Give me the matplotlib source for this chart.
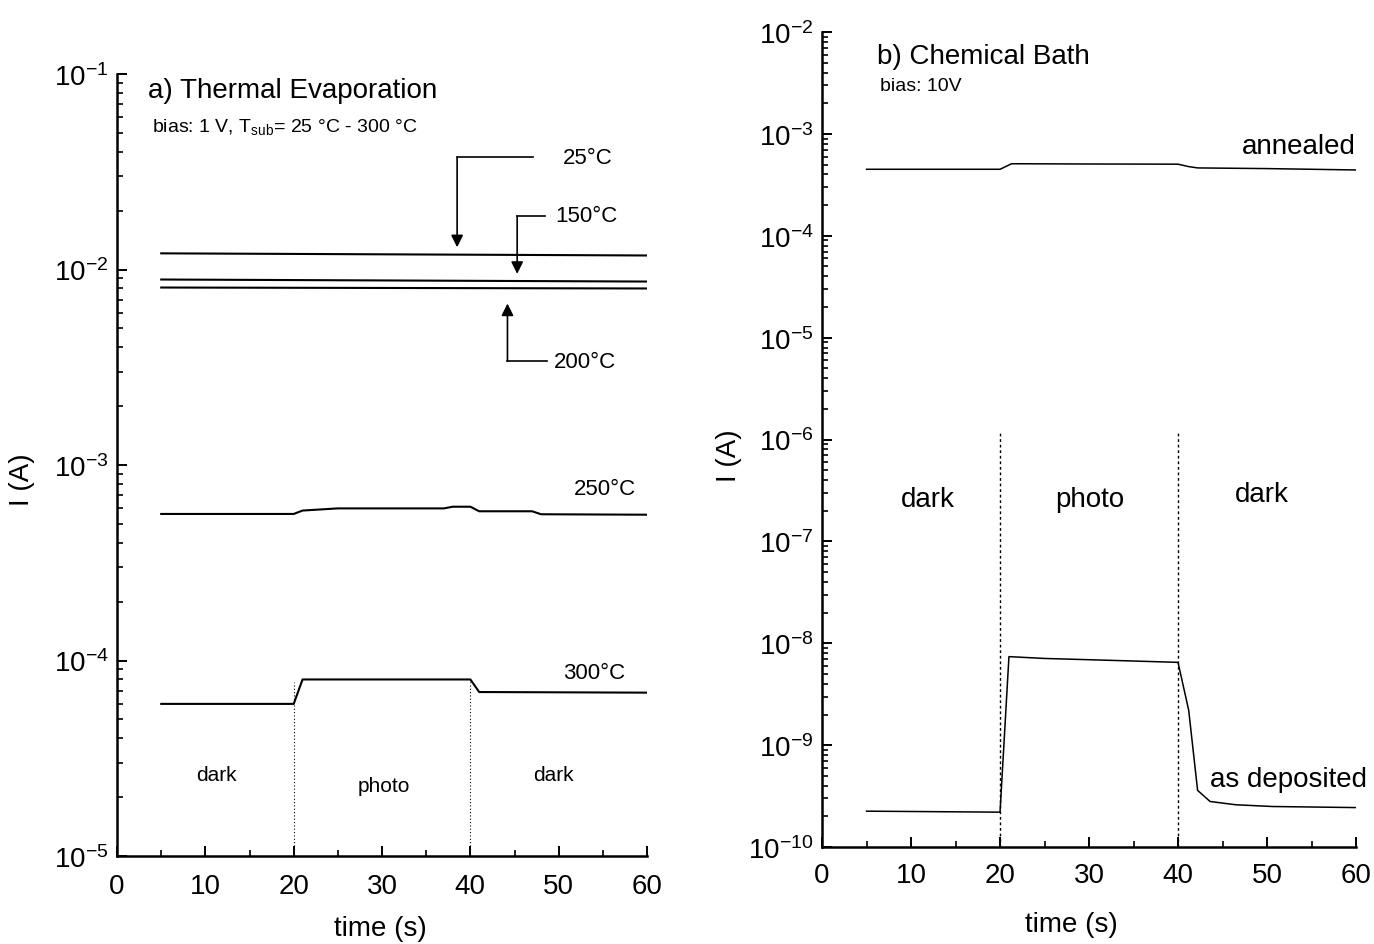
import matplotlib.pyplot as plt
import numpy as np

plt.rcParams['font.family'] = ['Liberation Sans', 'DejaVu Sans']
plt.rcParams['mathtext.fontset'] = 'custom'
plt.rcParams['mathtext.rm'] = 'Liberation Sans'
plt.rcParams['mathtext.it'] = 'Liberation Sans:italic'
plt.rcParams['mathtext.bf'] = 'Liberation Sans:bold'

# panel a) thermal evaporation, current vs time
t_flat = [5, 60]
i_25 = [1.21e-2, 1.18e-2]
i_150 = [8.89e-3, 8.68e-3]
i_200 = [8.09e-3, 8.00e-3]

t_250 = [5, 20, 21, 25, 37, 38, 40, 41, 47, 48, 60]
i_250 = [5.62e-4, 5.62e-4, 5.85e-4, 6.0e-4, 6.0e-4, 6.12e-4, 6.12e-4, 5.8e-4, 5.8e-4, 5.6e-4, 5.57e-4]

t_300 = [5, 20, 21, 40, 41, 60]
i_300 = [6.0e-5, 6.0e-5, 8.0e-5, 8.0e-5, 6.9e-5, 6.85e-5]

# panel b) chemical bath
t_ann = [5, 20, 21.3, 30, 40, 41.2, 42.2, 50, 60]
i_ann = [4.5e-4, 4.5e-4, 5.1e-4, 5.07e-4, 5.05e-4, 4.78e-4, 4.64e-4, 4.57e-4, 4.43e-4]

t_dep = [5, 20, 21.0, 25, 30, 35, 40, 41.2, 42.2, 43.6, 46.5, 50.6, 60]
i_dep = [2.25e-10, 2.2e-10, 7.4e-9, 7.1e-9, 6.9e-9, 6.7e-9, 6.5e-9, 2.2e-9, 3.6e-10, 2.8e-10, 2.6e-10, 2.5e-10, 2.44e-10]

switch_times = [20, 40]

fig = plt.figure(figsize=(13.74, 9.45), dpi=100)
axa = fig.add_axes([0.0852, 0.0931, 0.3857, 0.8275])
axb = fig.add_axes([0.5983, 0.1026, 0.3886, 0.8624])


def style_axis(ax, emin, emax, xpad):
    ax.set_yscale('log')
    ax.set_yticks(10.0 ** np.arange(emin, emax + 1))
    ax.set_xlim(0, 60)
    ax.set_ylim(10.0 ** emin, 10.0 ** emax)
    ax.set_xticks(np.arange(0, 61, 10))
    ax.set_xticks(np.arange(5, 60, 10), minor=True)
    for s in ['top', 'right']:
        ax.spines[s].set_visible(False)
    for s in ['left', 'bottom']:
        ax.spines[s].set_linewidth(1.8)
    ax.tick_params(which='major', direction='in', length=7, width=1.4, labelsize=20)
    ax.tick_params(which='minor', direction='in', length=4.5, width=1.2)
    ax.tick_params(axis='y', which='major', pad=6)
    ax.tick_params(axis='x', which='major', pad=xpad)
    ax.set_xlabel('time (s)', fontsize=20)
    ax.set_ylabel('I (A)', fontsize=20)


style_axis(axa, -5, -1, 12)
style_axis(axb, -10, -2, 10.5)

# panel a
for y in [i_25, i_150, i_200]:
    axa.plot(t_flat, y, color='k', lw=1.5)
axa.plot(t_250, i_250, color='k', lw=1.5)
axa.plot(t_300, i_300, color='k', lw=1.5)
for t in switch_times:
    axa.plot([t, t], [1e-5, 7.8e-5], color='k', lw=0.8, ls=(0, (1, 2)))

arr = dict(arrowstyle='-|>', color='k', lw=1.2, mutation_scale=18, shrinkA=0, shrinkB=0)
axa.plot([38.5, 47.1], [0.0376, 0.0376], color='k', lw=1.2)
axa.annotate('', xy=(38.5, 0.0130), xytext=(38.5, 0.0376), arrowprops=arr)
axa.plot([45.3, 48.5], [0.0188, 0.0188], color='k', lw=1.2)
axa.annotate('', xy=(45.3, 0.0095), xytext=(45.3, 0.0188), arrowprops=arr)
axa.plot([44.2, 48.7], [0.0034, 0.0034], color='k', lw=1.2)
axa.annotate('', xy=(44.2, 0.0067), xytext=(44.2, 0.0034), arrowprops=arr)

axa.text(3.5, 0.0828, 'a) Thermal Evaporation', fontsize=20, va='center')
axa.text(3.96, 0.0542, 'bias: 1 V, T$_{\\mathregular{sub}}$= 25 °C - 300 °C', fontsize=14, va='center')
axa.text(50.5, 0.0376, '25°C', fontsize=16, va='center')
axa.text(49.6, 0.0188, '150°C', fontsize=16, va='center')
axa.text(49.4, 0.0034, '200°C', fontsize=16, va='center')
axa.text(51.7, 7.6e-4, '250°C', fontsize=16, va='center')
axa.text(50.5, 8.7e-5, '300°C', fontsize=16, va='center')
axa.text(11.3, 2.6e-5, 'dark', fontsize=15, ha='center', va='center')
axa.text(30.2, 2.3e-5, 'photo', fontsize=15, ha='center', va='center')
axa.text(49.4, 2.6e-5, 'dark', fontsize=15, ha='center', va='center')

# panel b
axb.plot(t_ann, i_ann, color='k', lw=1.1)
axb.plot(t_dep, i_dep, color='k', lw=1.1)
for t in switch_times:
    axb.plot([t, t], [1e-10, 1.2e-6], color='k', lw=1.0, ls=(0, (2, 2)))

axb.text(6.2, 5.8e-3, 'b) Chemical Bath', fontsize=20, va='center')
axb.text(6.5, 3.0e-3, 'bias: 10V', fontsize=14, va='center')
axb.text(60, 7.6e-4, 'annealed', fontsize=20, ha='right', va='center')
axb.text(43.6, 4.7e-10, 'as deposited', fontsize=20, va='center', clip_on=False)
axb.text(11.9, 2.6e-7, 'dark', fontsize=20, ha='center', va='center')
axb.text(30.1, 2.6e-7, 'photo', fontsize=20, ha='center', va='center')
axb.text(49.4, 2.9e-7, 'dark', fontsize=20, ha='center', va='center')

axa.xaxis.set_label_coords(0.496, -0.076)
axb.xaxis.set_label_coords(0.466, -0.079)
axa.yaxis.set_label_coords(-0.155, 0.482)
axb.yaxis.set_label_coords(-0.150, 0.482)

fig.savefig('out.png', dpi=100)
